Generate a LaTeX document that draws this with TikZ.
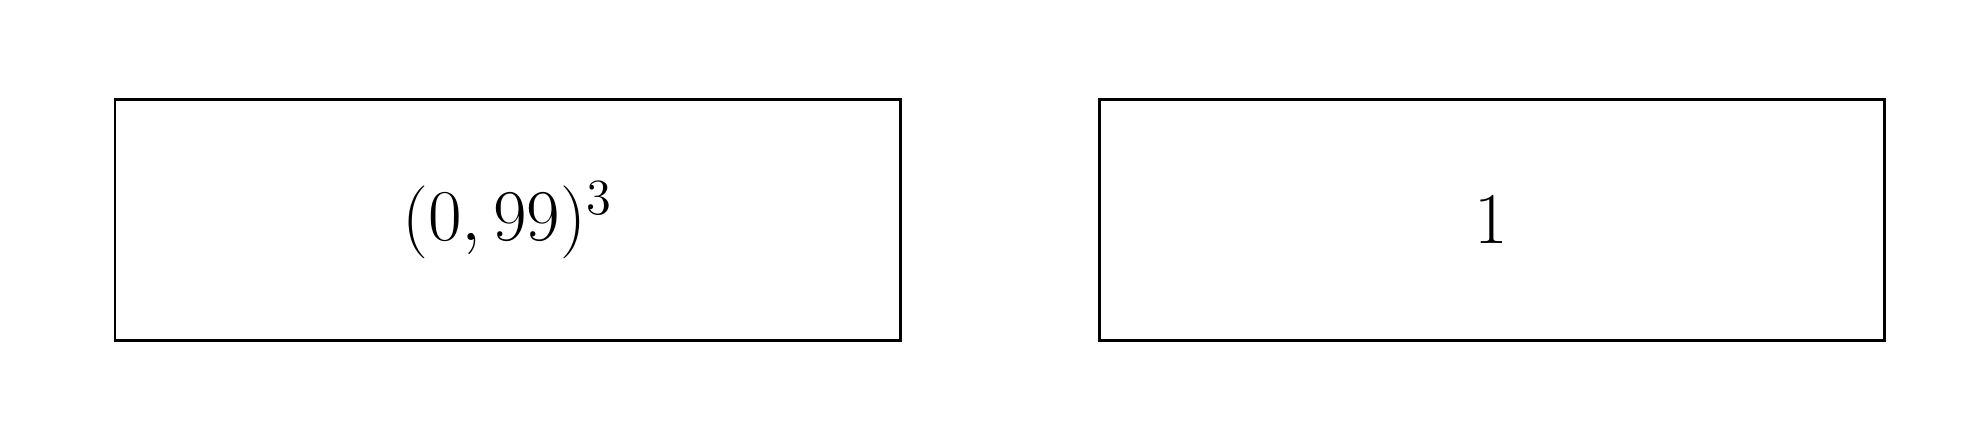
\documentclass[tikz,border=0pt]{standalone}
\usepackage{amsmath,amssymb}
\usepackage{tikz}

\begin{document}
\begin{tikzpicture}[valbox/.style={draw, line width=0.85pt, minimum width=7.85cm, minimum height=2.41cm, inner sep=0pt, font=\fontsize{20}{24}\selectfont}]
        \useasboundingbox (0, 0) rectangle (19.69, 4.41);

        \node[valbox] (dom) at (5.075, 2.21) {\((0, 99)^3\)};
        \node[valbox] (img) at (14.915, 2.21) {\(1\)};
    \end{tikzpicture}
\end{document}
